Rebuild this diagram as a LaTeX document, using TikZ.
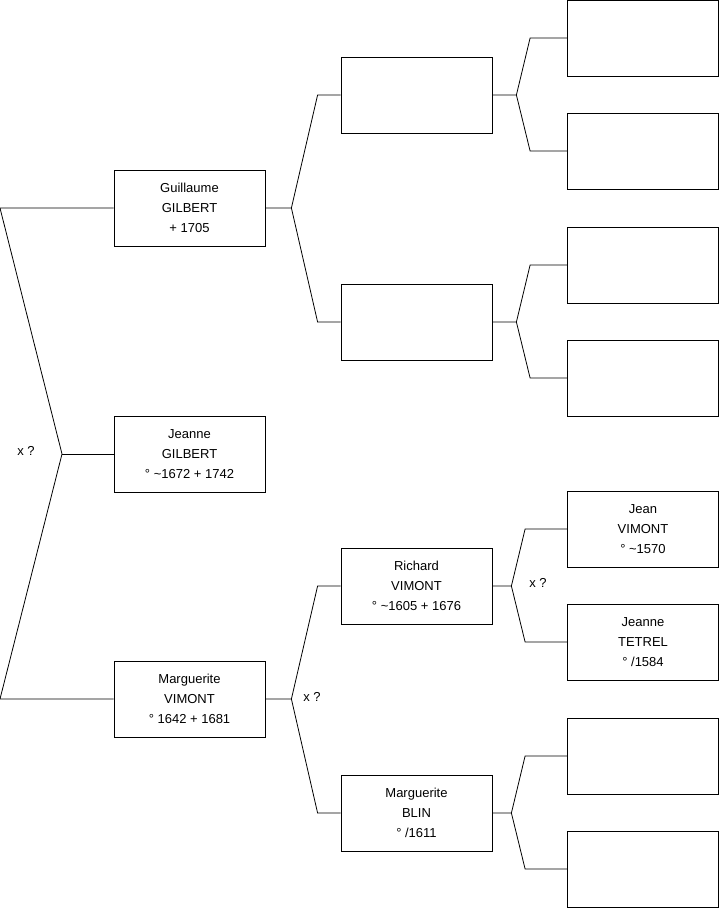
\documentclass[tikz,border=0pt]{standalone}
\usepackage{fontspec}
\setmainfont{Liberation Sans}
\begin{document}
\begin{tikzpicture}[x=1pt,y=-1pt,
  every node/.style={font=\fontsize{13}{20}\selectfont},
  pers/.style={rectangle,draw,line width=0.8pt,minimum width=151pt,minimum height=76pt,align=center,inner sep=0pt},
  link/.style={line width=0.8pt}
]
\useasboundingbox (0,0) rectangle (719,908);
% generation 1
\node[pers] (guil) at (189.5,208) {Guillaume\\GILBERT\\+ 1705};
\node[pers] (jean) at (189.5,454) {Jeanne\\GILBERT\\° \textasciitilde1672 + 1742};
\node[pers] (marg) at (189.5,699) {Marguerite\\VIMONT\\° 1642 + 1681};
% generation 2
\node[pers] (gp) at (416.5,95) {};
\node[pers] (gm) at (416.5,322) {};
\node[pers] (rich) at (416.5,586) {Richard\\VIMONT\\° \textasciitilde1605 + 1676};
\node[pers] (blin) at (416.5,813) {Marguerite\\BLIN\\° /1611};
% generation 3
\node[pers] (gpp) at (643,38) {};
\node[pers] (gpm) at (643,151) {};
\node[pers] (gmp) at (643,265) {};
\node[pers] (gmm) at (643,378) {};
\node[pers] (jvim) at (643,529) {Jean\\VIMONT\\° \textasciitilde1570};
\node[pers] (jtet) at (643,642) {Jeanne\\TETREL\\° /1584};
\node[pers] (blp) at (643,756) {};
\node[pers] (blm) at (643,869) {};
% root fork
\coordinate (r0) at (0,208);
\coordinate (r1) at (0,699);
\coordinate (rf) at (62,454);
\draw[link] (guil.west) -- (r0) -- (rf) -- (r1) -- (marg.west);
\draw[link] (rf) -- (jean.west);
\node (x0) at (26,451) {x ?};
% forks to generation 2
\draw[link] (guil.east) -- ([xshift=26pt]guil.east) coordinate (f1) -- ([xshift=-23pt]gp.west) -- (gp.west);
\draw[link] (f1) -- ([xshift=-23pt]gm.west) -- (gm.west);
\draw[link] (marg.east) -- ([xshift=26pt]marg.east) coordinate (f2) -- ([xshift=-23pt]rich.west) -- (rich.west);
\draw[link] (f2) -- ([xshift=-23pt]blin.west) -- (blin.west);
\node (x2) at (312,697) {x ?};
% forks to generation 3
\draw[link] (gp.east) -- ([xshift=24pt]gp.east) coordinate (f3) -- ([xshift=-37pt]gpp.west) -- (gpp.west);
\draw[link] (f3) -- ([xshift=-37pt]gpm.west) -- (gpm.west);
\draw[link] (gm.east) -- ([xshift=24pt]gm.east) coordinate (f4) -- ([xshift=-37pt]gmp.west) -- (gmp.west);
\draw[link] (f4) -- ([xshift=-37pt]gmm.west) -- (gmm.west);
\draw[link] (rich.east) -- ([xshift=19pt]rich.east) coordinate (f5) -- ([xshift=-42pt]jvim.west) -- (jvim.west);
\draw[link] (f5) -- ([xshift=-42pt]jtet.west) -- (jtet.west);
\node (x5) at (538,583) {x ?};
\draw[link] (blin.east) -- ([xshift=19pt]blin.east) coordinate (f6) -- ([xshift=-42pt]blp.west) -- (blp.west);
\draw[link] (f6) -- ([xshift=-42pt]blm.west) -- (blm.west);
\end{tikzpicture}
\end{document}
